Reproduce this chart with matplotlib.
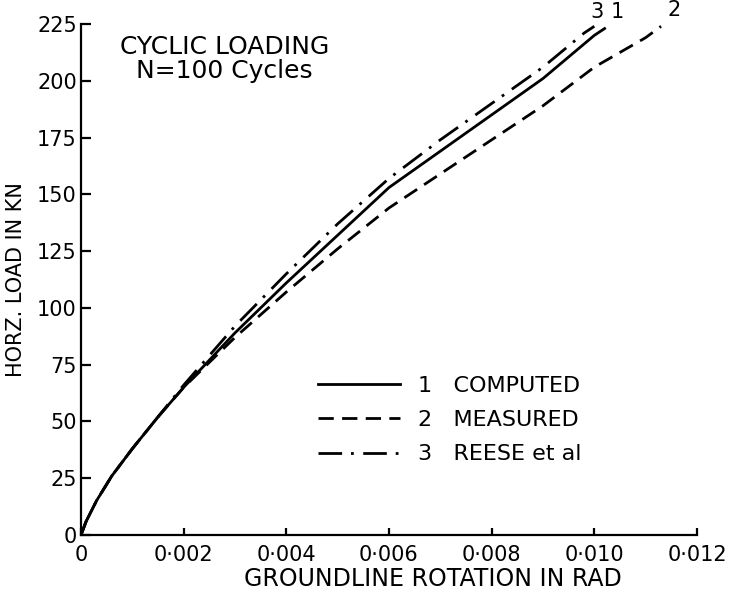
import matplotlib.pyplot as plt

# values
rot_computed = [0, 0.0001, 0.0003, 0.0006, 0.001, 0.0015, 0.002, 0.003, 0.004,
                0.005, 0.006, 0.007, 0.008, 0.009, 0.010, 0.0102]
load_computed = [0, 6, 15, 26, 38, 52, 65, 89, 111, 132, 153, 169, 185, 201, 220, 223]

rot_measured = [0, 0.0001, 0.0003, 0.0006, 0.001, 0.0015, 0.002, 0.003, 0.004,
                0.005, 0.006, 0.007, 0.008, 0.009, 0.010, 0.011, 0.0113]
load_measured = [0, 6, 15, 26, 38, 52, 65, 87, 107, 126, 144, 159, 174, 189, 206, 219, 224]

rot_reese = [0, 0.0001, 0.0003, 0.0006, 0.001, 0.0015, 0.002, 0.003, 0.004,
             0.005, 0.006, 0.007, 0.008, 0.009, 0.0098, 0.0100]
load_reese = [0, 6, 15, 26, 38, 52, 66, 92, 115, 137, 157, 174, 190, 206, 221, 224]

labels = ["1   COMPUTED", "2   MEASURED", "3   REESE et al"]
curve_tags = ["1", "2", "3"]

xticks = [0, 0.002, 0.004, 0.006, 0.008, 0.010, 0.012]
xticklabels = ["0", "0\u00b7002", "0\u00b7004", "0\u00b7006", "0\u00b7008", "0\u00b7010", "0\u00b7012"]
yticks = [0, 25, 50, 75, 100, 125, 150, 175, 200, 225]

plt.rcParams['font.family'] = 'DejaVu Sans'

fig = plt.figure(figsize=(7.34, 5.97), dpi=100)
ax = fig.add_axes([81 / 734, 62 / 597, 616 / 734, 511 / 597])

lw = 2.0
ax.plot(rot_computed, load_computed, color="k", lw=lw, label=labels[0])
ax.plot(rot_measured, load_measured, color="k", lw=lw, dashes=(5.5, 3), label=labels[1])
ax.plot(rot_reese, load_reese, color="k", lw=lw, dashes=(8.5, 3.2, 1, 3.4), label=labels[2])

ax.set_xlim(0, 0.012)
ax.set_ylim(0, 225)
for s in ["top", "right"]:
    ax.spines[s].set_visible(False)
for s in ["left", "bottom"]:
    ax.spines[s].set_linewidth(1.6)

ax.set_xticks(xticks)
ax.set_xticklabels(xticklabels)
ax.set_yticks(yticks)
ax.tick_params(axis="both", direction="in", width=1.6, labelsize=15)
ax.tick_params(axis="x", pad=7, length=5)
ax.tick_params(axis="y", pad=3, length=7)

ax.set_xlabel("GROUNDLINE ROTATION IN RAD", fontsize=17, labelpad=2, x=0.571)
ax.set_ylabel("HORZ. LOAD IN KN", fontsize=15, labelpad=8)

ax.text(0.0028, 215, "CYCLIC LOADING", fontsize=18, ha="center", va="center")
ax.text(0.0028, 204.5, "N=100 Cycles", fontsize=18, ha="center", va="center")

# curve numbers at the line ends
ax.text(rot_reese[-1] + 0.00005, 230.5, curve_tags[2], fontsize=15, ha="center", va="center", clip_on=False)
ax.text(rot_computed[-1] + 0.00025, 230.5, curve_tags[0], fontsize=15, ha="center", va="center", clip_on=False)
ax.text(rot_measured[-1] + 0.00025, 231, curve_tags[1], fontsize=15, ha="center", va="center", clip_on=False)

ax.legend(loc="upper left", bbox_to_anchor=(0.385, 0.312), frameon=False,
          fontsize=16, handlelength=3.7, handletextpad=0.8, labelspacing=0.65,
          borderpad=0, borderaxespad=0)

fig.savefig("out.png", dpi=100)
